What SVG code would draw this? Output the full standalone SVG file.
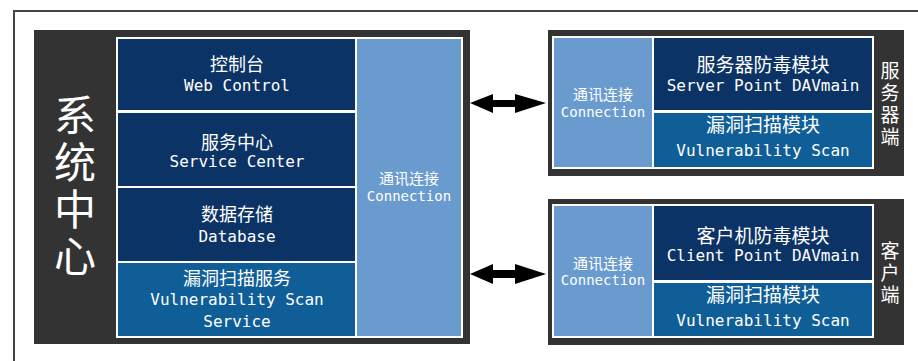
<svg xmlns="http://www.w3.org/2000/svg" width="918" height="361" viewBox="0 0 918 361">
<defs>
<style>
.frame{fill:none;stroke:#444;stroke-width:2}
.dark{fill:#333333}
.white{fill:#ffffff}
.navy{fill:#0c3365}
.vuln{fill:#0f5e97}
.conn{fill:#6a9bcf}
.zh{font-family:"Noto Sans CJK SC","Noto Sans",sans-serif;fill:#fff;text-anchor:middle;dominant-baseline:central}
.vt{font-family:"Noto Sans CJK SC","Noto Sans",sans-serif;fill:#fff;text-anchor:middle;writing-mode:vertical-rl}
.en{font-family:"DejaVu Sans Mono","Liberation Mono",monospace;fill:#fff;text-anchor:middle;dominant-baseline:central}
.arrow{fill:#000}
</style>
</defs>
<rect x="0" y="0" width="918" height="361" fill="#fff"/>
<path class="frame" d="M14,361 V11 H918"/>

<g id="system-center">
<rect class="dark" x="34" y="30" width="436" height="314"/>
<text class="vt" x="75" y="188" font-size="42" letter-spacing="5">系统中心</text>
<rect class="white" x="116" y="37" width="347" height="301"/>
</g>
<g id="web-control">
<rect class="navy" x="118" y="39" width="237" height="71"/>
<text class="zh" x="237" y="63" font-size="18">控制台</text>
<text class="en" x="237" y="85" font-size="16">Web Control</text>
</g>
<g id="service-center">
<rect class="navy" x="118" y="113" width="237" height="73"/>
<text class="zh" x="237" y="141" font-size="18">服务中心</text>
<text class="en" x="237" y="161" font-size="16">Service Center</text>
</g>
<g id="database">
<rect class="navy" x="118" y="188" width="237" height="73"/>
<text class="zh" x="237" y="213" font-size="18">数据存储</text>
<text class="en" x="237" y="236" font-size="16">Database</text>
</g>
<g id="vuln-service">
<rect class="vuln" x="118" y="263" width="237" height="73"/>
<text class="zh" x="237" y="277" font-size="18">漏洞扫描服务</text>
<text class="en" x="237" y="299" font-size="16">Vulnerability Scan</text>
<text class="en" x="237" y="321" font-size="16">Service</text>
</g>
<g id="center-connection">
<rect class="conn" x="357" y="39" width="104" height="297"/>
<text class="zh" x="409" y="177" font-size="15">通讯连接</text>
<text class="en" x="409" y="196" font-size="14">Connection</text>
</g>

<g id="server">
<rect class="dark" x="548" y="30" width="356" height="146"/>
<rect class="white" x="552" y="36" width="322" height="133"/>
<text class="vt" x="890" y="105" font-size="19" letter-spacing="3">服务器端</text>
</g>
<g id="server-connection">
<rect class="conn" x="554" y="38" width="98" height="129"/>
<text class="zh" x="603" y="93" font-size="15">通讯连接</text>
<text class="en" x="603" y="112" font-size="14">Connection</text>
</g>
<g id="server-dav">
<rect class="navy" x="654" y="38" width="218" height="72"/>
<text class="zh" x="763" y="63" font-size="19">服务器防毒模块</text>
<text class="en" x="763" y="85" font-size="16">Server Point DAVmain</text>
</g>
<g id="server-vuln">
<rect class="vuln" x="654" y="113" width="218" height="54"/>
<text class="zh" x="763" y="123" font-size="19">漏洞扫描模块</text>
<text class="en" x="763" y="150" font-size="16">Vulnerability Scan</text>
</g>

<g id="client">
<rect class="dark" x="548" y="199" width="356" height="146"/>
<rect class="white" x="552" y="204" width="322" height="134"/>
<text class="vt" x="890" y="274" font-size="19" letter-spacing="3">客户端</text>
</g>
<g id="client-connection">
<rect class="conn" x="554" y="206" width="98" height="130"/>
<text class="zh" x="603" y="262" font-size="15">通讯连接</text>
<text class="en" x="603" y="280" font-size="14">Connection</text>
</g>
<g id="client-dav">
<rect class="navy" x="654" y="206" width="218" height="74"/>
<text class="zh" x="763" y="234" font-size="19">客户机防毒模块</text>
<text class="en" x="763" y="255" font-size="16">Client Point DAVmain</text>
</g>
<g id="client-vuln">
<rect class="vuln" x="654" y="283" width="218" height="53"/>
<text class="zh" x="763" y="293" font-size="19">漏洞扫描模块</text>
<text class="en" x="763" y="320" font-size="16">Vulnerability Scan</text>
</g>

<g id="connectors">
<polygon class="arrow" points="470,103 493,94 493,100 515,100 515,94 546,103 515,113 515,107 493,107 493,113"/>
<polygon class="arrow" points="470,274 493,264 493,270 515,270 515,264 546,274 515,284 515,278 493,278 493,284"/>
</g>
</svg>
